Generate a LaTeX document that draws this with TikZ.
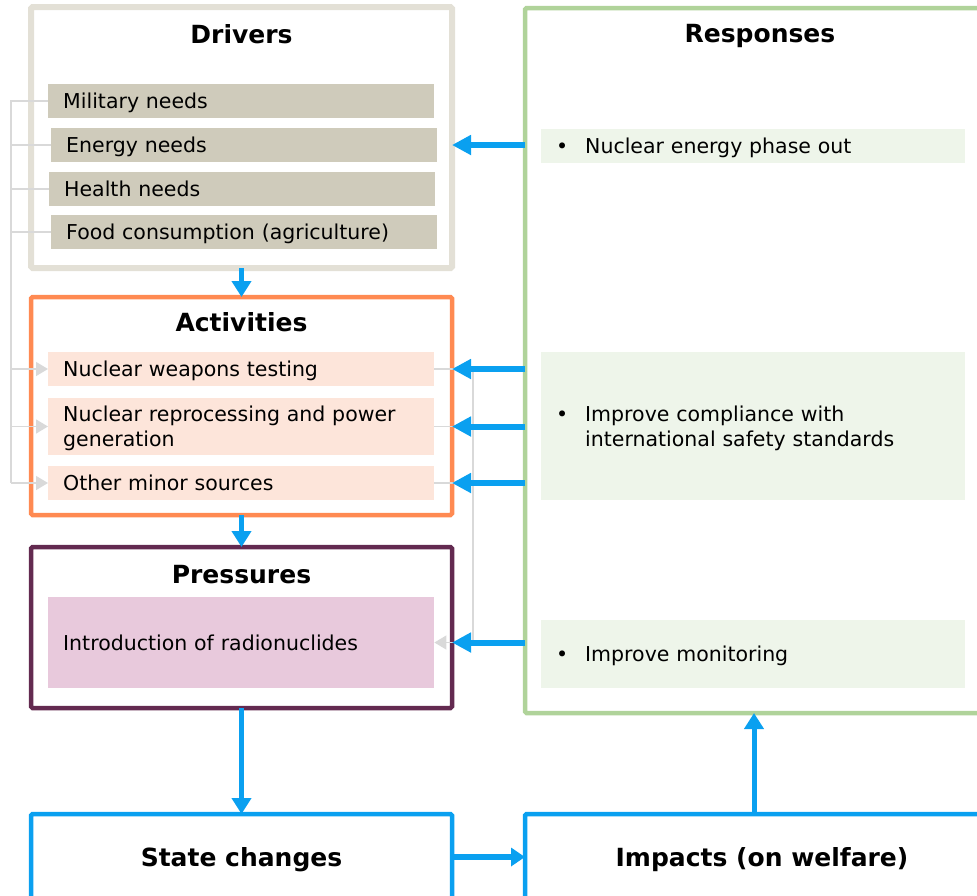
\documentclass[tikz,border=0pt]{standalone}
\usepackage{fontspec}
\setmainfont{DejaVu Sans}
\usetikzlibrary{positioning,arrows.meta}

\definecolor{drvline}{HTML}{E3E0D6}
\definecolor{drvfill}{HTML}{CFCBBB}
\definecolor{actline}{HTML}{FF8A52}
\definecolor{actfill}{HTML}{FDE5DA}
\definecolor{presline}{HTML}{632A50}
\definecolor{presfill}{HTML}{E8C9DC}
\definecolor{respline}{HTML}{B0D39A}
\definecolor{respfill}{HTML}{EEF5EA}
\definecolor{flowblue}{HTML}{0AA0F0}
\definecolor{linkgray}{HTML}{D9D9D9}

\begin{document}
\begin{tikzpicture}[x=1pt, y=-1pt,
    boxframe/.style={draw, line width=4.5pt, rounded corners=1.5pt, minimum width=421pt, inner sep=0pt, outer sep=0pt},
    heading/.style={font=\fontsize{25}{30}\selectfont\bfseries, text height=18pt, text depth=0pt},
    entry/.style={anchor=west, minimum width=386pt, minimum height=34pt, text width=356pt,
        inner xsep=15pt, inner ysep=0pt, align=left, font=\fontsize{20.5}{25}\selectfont},
    oneline/.style={text height=15pt, text depth=0pt},
    twoline/.style={text height=20pt},
    respentry/.style={entry, fill=respfill, minimum width=424pt, text width=394pt},
    flowarrow/.style={flowblue, line width=6pt, -{Triangle[length=19pt,width=19pt]}},
    downarrow/.style={flowblue, line width=5pt, -{Triangle[length=16pt,width=19pt]}},
    sidearrow/.style={flowblue, line width=6pt, -{Triangle[length=14pt,width=18pt]}},
    graylink/.style={linkgray, line width=1.5pt},
    grayarrow/.style={graylink, -{Triangle[length=12pt,width=14pt]}}
]
\useasboundingbox (0,0) rectangle (977,895);

% Drivers
\node[boxframe, draw=drvline, line width=6pt, minimum height=261pt] (drivers) at (241.5,137.5) {};
\node[heading] (drvtitle) at (241.5,34) {Drivers};
\node[entry, oneline, fill=drvfill] (military) at (48,101) {Military needs};
\node[entry, oneline, fill=drvfill] (energy) at (51,145) {Energy needs};
\node[entry, oneline, fill=drvfill] (health) at (49,189) {Health needs};
\node[entry, oneline, fill=drvfill] (food) at (51,232) {Food consumption (agriculture)};

% Activities
\node[boxframe, draw=actline, minimum height=218pt] (activities) at (241.5,406) {};
\node[heading] (acttitle) at (241.5,322) {Activities};
\node[entry, oneline, fill=actfill] (testing) at (48,369) {Nuclear weapons testing};
\node[entry, twoline, fill=actfill, minimum height=57pt] (reprocessing) at (48,426.5)
    {Nuclear reprocessing and power\\generation};
\node[entry, oneline, fill=actfill] (minor) at (48,483) {Other minor sources};

% Pressures
\node[boxframe, draw=presline, minimum height=161pt] (pressures) at (241.5,627.5) {};
\node[heading] (prestitle) at (241.5,574) {Pressures};
\node[entry, oneline, fill=presfill, minimum height=91pt] (radionuclides) at (48,642.5)
    {Introduction of radionuclides};

% State changes and impacts (cut by the page bottom)
\node[boxframe, heading, draw=flowblue, minimum height=86pt] (state) at (241.5,857) {State changes};
\node[boxframe, heading, draw=flowblue, minimum width=474pt, minimum height=86pt] (impacts) at (762,857)
    {Impacts (on welfare)};

% Responses
\node[boxframe, draw=respline, minimum width=470pt, minimum height=705pt] (responses) at (760,360.5) {};
\node[heading] (resptitle) at (760,33) {Responses};
\node[respentry, oneline] (phaseout) at (541,145.5)
    {\makebox[29pt][l]{\textbullet}Nuclear energy phase out};
\node[respentry, twoline, minimum height=148pt] (compliance) at (541,426)
    {\makebox[29pt][l]{\textbullet}Improve compliance with\\\hspace*{29pt}international safety standards};
\node[respentry, oneline, minimum height=68pt] (monitoring) at (541,654)
    {\makebox[29pt][l]{\textbullet}Improve monitoring};

% Gray links on the left
\coordinate (lbus) at (11,0);
\draw[graylink] (military.west) -- (lbus |- military) -- (lbus |- minor);
\foreach \n in {energy,health,food}
    \draw[graylink] (\n.west) -- (lbus |- \n);
\foreach \n in {testing,reprocessing,minor}
    \draw[grayarrow] (lbus |- \n) -- (\n.west);

% Gray links on the right
\coordinate (rbus) at (473,0);
\draw[graylink] (testing.east) -- (rbus |- testing) -- (rbus |- radionuclides);
\foreach \n in {reprocessing,minor}
    \draw[graylink] (\n.east) -- (rbus |- \n);
\draw[grayarrow] (rbus |- radionuclides) -- (radionuclides.east);

% Responses feeding back
\draw[flowarrow] (responses.west |- energy) -- (drivers.east |- energy);
\foreach \n in {testing,reprocessing,minor}
    \draw[flowarrow] (responses.west |- \n) -- (activities.east |- \n);
\draw[flowarrow] (responses.west |- radionuclides) -- (pressures.east |- radionuclides);

% Main chain
\draw[downarrow] (drivers.south) -- (activities.north);
\draw[downarrow] (activities.south) -- (pressures.north);
\draw[downarrow] (pressures.south) -- (state.north);
\draw[sidearrow] (state.east) -- (impacts.west);
\draw[downarrow] ([xshift=-8pt]impacts.north) -- ([xshift=-8pt]impacts.north |- responses.south);

\end{tikzpicture}
\end{document}
